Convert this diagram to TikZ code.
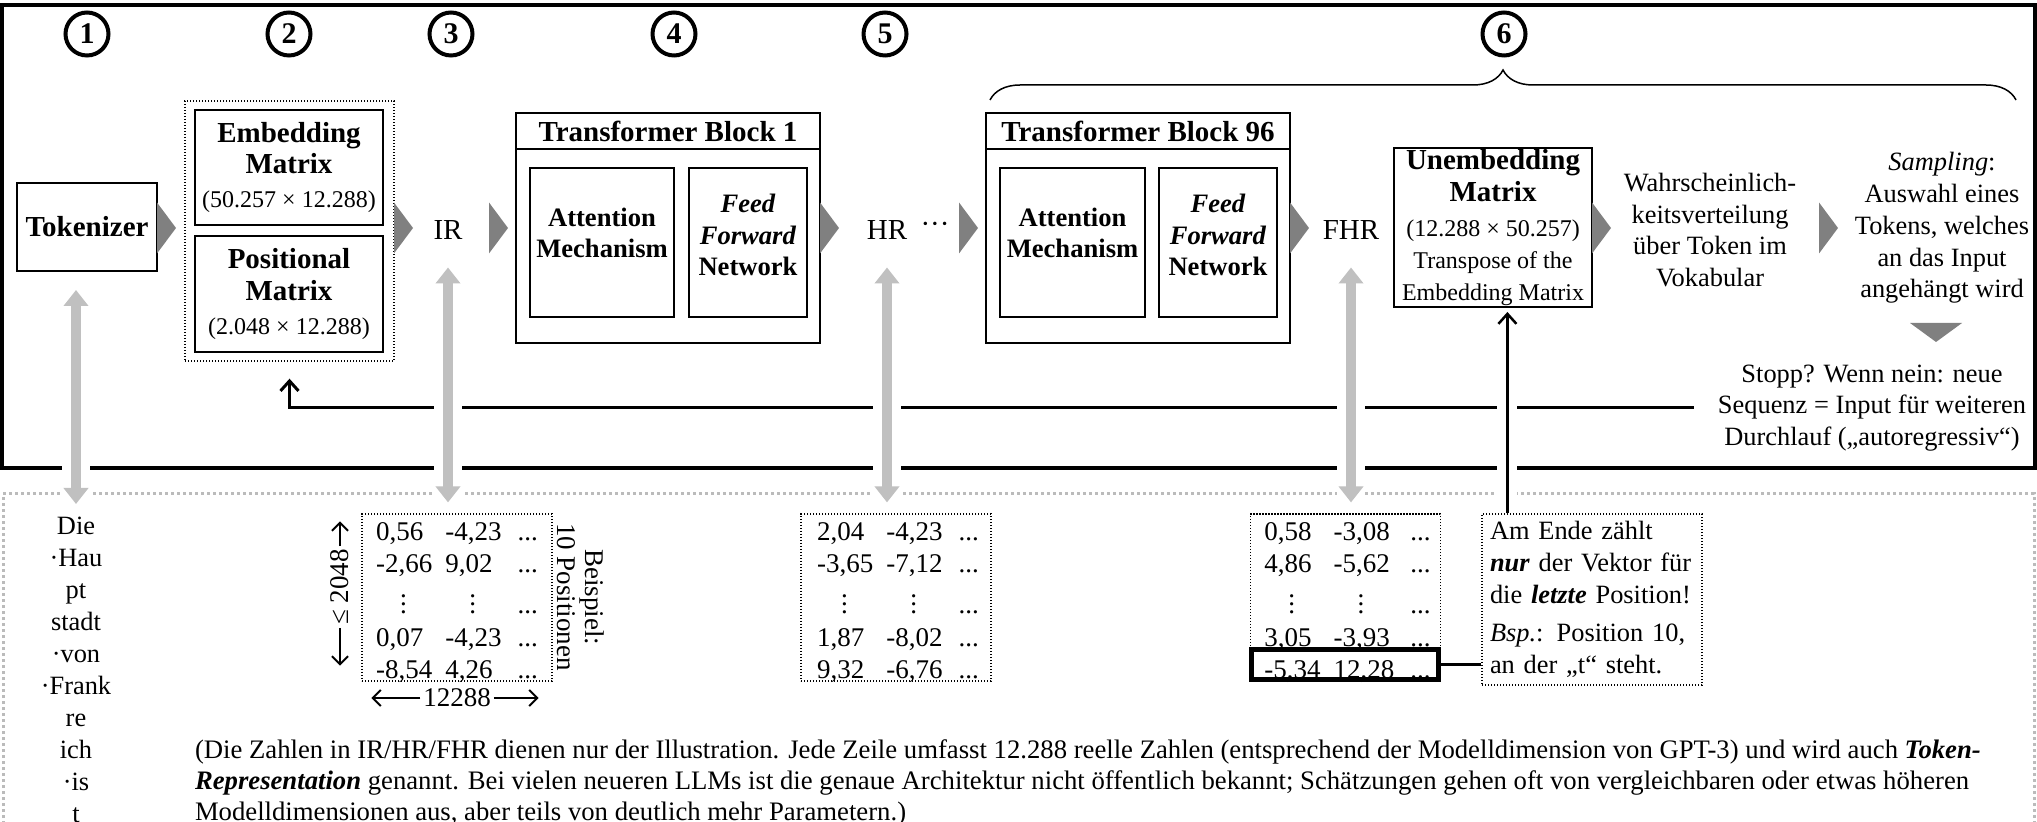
\documentclass[tikz,border=0pt]{standalone}
\usepackage{fontspec}
\setmainfont{Liberation Serif}
\usetikzlibrary{calc, arrows.meta, decorations.pathreplacing}

\definecolor{tipgray}{HTML}{808080}
\definecolor{arrowgray}{HTML}{C0C0C0}
\definecolor{framegray}{HTML}{BBBBBB}

\newcommand{\txtfont}{\fontsize{13.2}{15.9}\selectfont}
\newcommand{\headfont}{\fontsize{14.5}{17.5}\selectfont\bfseries}
\newcommand{\dimfont}{\normalfont\fontsize{12}{14.5}\selectfont}
\newcommand{\cellfont}{\fontsize{13.3}{15.75}\selectfont\bfseries}
\newcommand{\numfont}{\fontsize{13.5}{16.25}\selectfont}
\newcommand{\repfont}{\fontsize{14.5}{17}\selectfont}
\newcommand{\vdcell}{\hspace{12pt}$\vdots$}

\begin{document}
\begin{tikzpicture}[
    x=0.5pt, y=-0.5pt,
    line width=1pt,
    font=\txtfont,
    box/.style={draw, line width=1pt, inner sep=0pt, align=center},
    inbox/.style={draw, line width=1pt, inner sep=0pt, minimum height=74.5pt},
    numcirc/.style={circle, draw, line width=2pt, minimum size=21.5pt, inner sep=0pt, font=\fontsize{15}{15}\selectfont\bfseries},
    grp/.style={draw, line width=0.7pt, dash pattern=on 0.7pt off 0.8pt, inner sep=0pt},
    mat/.style={draw, line width=0.6pt, dash pattern=on 0.6pt off 0.9pt, minimum width=95pt, minimum height=83.5pt, inner sep=0pt},
    vals/.style={inner sep=0pt, font=\numfont},
    lastrow/.style={draw, line width=2.5pt, minimum width=93.5pt, minimum height=15pt, inner sep=0pt},
    grayarr/.style={draw=arrowgray, line width=5pt, {Triangle[width=12pt,length=8pt]}-{Triangle[width=12pt,length=8pt]}, preaction={draw=white, line width=14pt, -, shorten <=1pt, shorten >=1pt}},
    fb/.style={line width=1.5pt, -{Straight Barb[length=5pt,width=9pt]}},
    ptr/.style={line width=1.25pt, -{Straight Barb[length=5pt,width=9pt]}, preaction={draw=white, line width=10pt, -, shorten <=3pt, shorten >=3pt}},
    dimarr/.style={line width=1pt, -{Straight Barb[length=4pt,width=8pt]}},
    flowtip/.pic={\fill[tipgray] (0,-25.5) -- (19,0) -- (0,25.5) -- cycle;},
    downtip/.pic={\fill[tipgray] (-26,0) -- (26,0) -- (0,19) -- cycle;}
]
    \useasboundingbox (0,0) rectangle (2037,822);

    % 1. Frames (model run on top, example data below)
    \draw[line width=2pt] (2,5) rectangle (2035,468);
    \draw[draw=framegray, line width=1.5pt, dash pattern=on 1.5pt off 1.5pt] (3,830) -- (3,494) -- (2034,494) -- (2034,830);

    % 2. Step numbers
    \node[numcirc] (numone) at (87,34) {1};
    \node[numcirc] (numtwo) at (289,34) {2};
    \node[numcirc] (numthree) at (451,34) {3};
    \node[numcirc] (numfour) at (674,34) {4};
    \node[numcirc] (numfive) at (885,34) {5};
    \node[numcirc] (numsix) at (1504,34) {6};
    \draw[line width=0.75pt, decorate, decoration={brace, amplitude=15pt}] (990,100) -- (2016,100);

    % 3. Tokenizer, embedding and positional matrix
    \node[box, minimum width=70pt, minimum height=44pt, font=\headfont] (tok) at (87,227) {Tokenizer};
    \node[grp, minimum width=104.5pt, minimum height=130pt] (grp) at (289.5,231) {};
    \node[box, minimum width=94pt, minimum height=57.5pt] (emb) at (289,167.5) {\headfont Embedding\\\headfont Matrix\\[1pt]\dimfont (50.257 × 12.288)};
    \node[box, minimum width=94pt, minimum height=58pt] (pos) at (289,294) {\headfont Positional\\\headfont Matrix\\[1pt]\dimfont (2.048 × 12.288)};
    \node[font=\repfont, inner sep=0pt] (ir) at (448,230) {IR};

    % 4. Transformer Block 1
    \node[box, minimum width=152pt, minimum height=115pt] (tbone) at (668,228) {};
    \node[box, anchor=north, minimum width=152pt, minimum height=18pt, font=\headfont] (tbonehead) at (tbone.north) {Transformer Block 1};
    \node[inbox, minimum width=72pt] (attone) at (602,242.5) {};
    \node[inbox, minimum width=59pt] (ffnone) at (748,242.5) {};
    \node[font=\cellfont, align=center] (attonelbl) at (602,233) {Attention\\Mechanism};
    \node[font=\cellfont, align=center] (ffnonelbl) at (748,235) {\textit{Feed}\\\textit{Forward}\\Network};

    % 5. Hidden representation
    \node[font=\repfont, inner sep=0pt] (hr) at (887,230) {HR};
    \node[font=\repfont, inner sep=0pt] (hrdots) at (935,228) {···};

    % Transformer Block 96
    \node[box, minimum width=152pt, minimum height=115pt] (tbsix) at (1138,228) {};
    \node[box, anchor=north, minimum width=152pt, minimum height=18pt, font=\headfont] (tbsixhead) at (tbsix.north) {Transformer Block 96};
    \node[inbox, minimum width=72.5pt] (attsix) at (1072.5,242.5) {};
    \node[inbox, minimum width=59pt] (ffnsix) at (1218,242.5) {};
    \node[font=\cellfont, align=center] (attsixlbl) at (1072.5,233) {Attention\\Mechanism};
    \node[font=\cellfont, align=center] (ffnsixlbl) at (1218,235) {\textit{Feed}\\\textit{Forward}\\Network};
    \node[font=\repfont, inner sep=0pt] (fhr) at (1351,230) {FHR};

    % 6. Unembedding, distribution, sampling
    \node[box, minimum width=99pt, minimum height=79.5pt] (unemb) at (1493,227.5) {\headfont Unembedding\\\headfont Matrix\\[1.5pt]\dimfont (12.288 × 50.257)\\\dimfont Transpose of the\\\dimfont Embedding Matrix};
    \node[align=center] (prob) at (1710,230) {Wahrscheinlich-\\keitsverteilung\\über Token im\\Vokabular};
    \node[align=center] (samp) at (1942,228) {\textit{Sampling}:\\Auswahl eines\\Tokens, welches\\an das Input\\angehängt wird};
    \node[align=center, inner sep=0pt] (stopp) at (1872,408) {Stopp? Wenn nein: neue\\Sequenz = Input für weiteren\\Durchlauf („autoregressiv“)};

    % Flow triangles
    \pic at (157,228) {flowtip};
    \pic at (394,228) {flowtip};
    \pic at (489,228) {flowtip};
    \pic at (820,228) {flowtip};
    \pic at (959,228) {flowtip};
    \pic at (1290,228) {flowtip};
    \pic at (1592,228) {flowtip};
    \pic at (1819,228) {flowtip};
    \pic at (1936,323) {downtip};

    % Example data (bottom)
    \node[align=center, anchor=north, inner sep=0pt, font=\fontsize{13.2}{16}\selectfont] (tokens) at (76,516) {Die\\·Hau\\pt\\stadt\\·von\\·Frank\\re\\ich\\·is\\t};

    \node[mat] (irm) at (457,597.5) {};
    \node[vals] (irmvals) at (457,603) {\begin{tabular}{@{}l@{\hspace{6.5pt}}l@{\hspace{8pt}}l@{}}
        0,56 & -4,23 & ...\\
        -2,66 & 9,02 & ...\\
        \vdcell & \vdcell & ...\\
        0,07 & -4,23 & ...\\
        -8,54 & 4,26 & ...
    \end{tabular}};
    \node[mat] (hrm) at (896,597.5) {};
    \node[vals] (hrmvals) at (898,603) {\begin{tabular}{@{}l@{\hspace{6.5pt}}l@{\hspace{8pt}}l@{}}
        2,04 & -4,23 & ...\\
        -3,65 & -7,12 & ...\\
        \vdcell & \vdcell & ...\\
        1,87 & -8,02 & ...\\
        9,32 & -6,76 & ...
    \end{tabular}};
    \node[mat] (fhrm) at (1345.5,597.5) {};
    \node[vals] (fhrmvals) at (1347.5,603) {\begin{tabular}{@{}l@{\hspace{6.5pt}}l@{\hspace{8pt}}l@{}}
        0,58 & -3,08 & ...\\
        4,86 & -5,62 & ...\\
        \vdcell & \vdcell & ...\\
        3,05 & -3,93 & ...\\
        -5,34 & 12,28 & ...
    \end{tabular}};
    \node[lastrow] (lastrow) at (1345,664.5) {};

    % Dimensions of IR
    \node[font=\numfont, inner sep=1pt, rotate=90] (dimh) at (340,587) {≤ 2048};
    \draw[dimarr, shorten >=4pt] (dimh.east) -- (dimh.east |- irm.north);
    \draw[dimarr, shorten >=8pt] (dimh.west) -- (dimh.west |- irm.south);
    \node[font=\numfont, inner sep=1pt] (dimw) at (457,698) {12288};
    \draw[dimarr, shorten >=5pt] (dimw.west) -- (dimw.west -| irm.west);
    \draw[dimarr, shorten >=7pt] (dimw.east) -- (dimw.east -| irm.east);
    \node[rotate=-90, align=center, font=\fontsize{13.5}{14}\selectfont] (beisp) at (581,597) {Beispiel:\\10 Positionen};

    % Callout
    \node[draw, line width=0.6pt, dash pattern=on 0.6pt off 0.9pt, align=left, text width=102pt, inner xsep=4pt, inner ysep=0pt, minimum height=85.5pt] (callout) at (1592,599.5) {Am Ende zählt\\\textbf{\textit{nur}} der Vektor für\\die \textbf{\textit{letzte}} Position!\\[3.5pt]\textit{Bsp.}: Position 10,\\an der „t“ steht.};

    % Note
    \node[anchor=north west, align=left, inner sep=0pt, font=\fontsize{13.35}{15.5}\selectfont] (note) at (194,739) {(Die Zahlen in IR/HR/FHR dienen nur der Illustration. Jede Zeile umfasst 12.288 reelle Zahlen (entsprechend der Modelldimension von GPT-3) und wird auch \textbf{\textit{Token-}}\\\textbf{\textit{Representation}} genannt. Bei vielen neueren LLMs ist die genaue Architektur nicht öffentlich bekannt; Schätzungen gehen oft von vergleichbaren oder etwas höheren\\Modelldimensionen aus, aber teils von deutlich mehr Parametern.)};

    % Connections
    % Feedback loop
    \draw[fb, shorten <=11.5pt, shorten >=8.5pt] (stopp.west) -| (grp.south);

    % Gray links between model and example data
    \draw[grayarr, shorten <=9pt, shorten >=6pt] (tok.south -| tokens.north) -- (tokens.north);
    \draw[grayarr, shorten <=13.5pt, shorten >=5.5pt] (ir.south) -- (ir.south |- irm.north);
    \draw[grayarr, shorten <=13.5pt, shorten >=5.5pt] (hr.south) -- (hr.south |- hrm.north);
    \draw[grayarr, shorten <=13.5pt, shorten >=5.5pt] (fhr.south) -- (fhr.south |- fhrm.north);

    % Last position to unembedding
    \draw[ptr, shorten >=2pt] ([xshift=13pt]callout.north west) -- ([xshift=13pt]callout.north west |- unemb.south);
    \draw[line width=1.5pt] (lastrow.east) -- (lastrow.east -| callout.west);

\end{tikzpicture}
\end{document}
